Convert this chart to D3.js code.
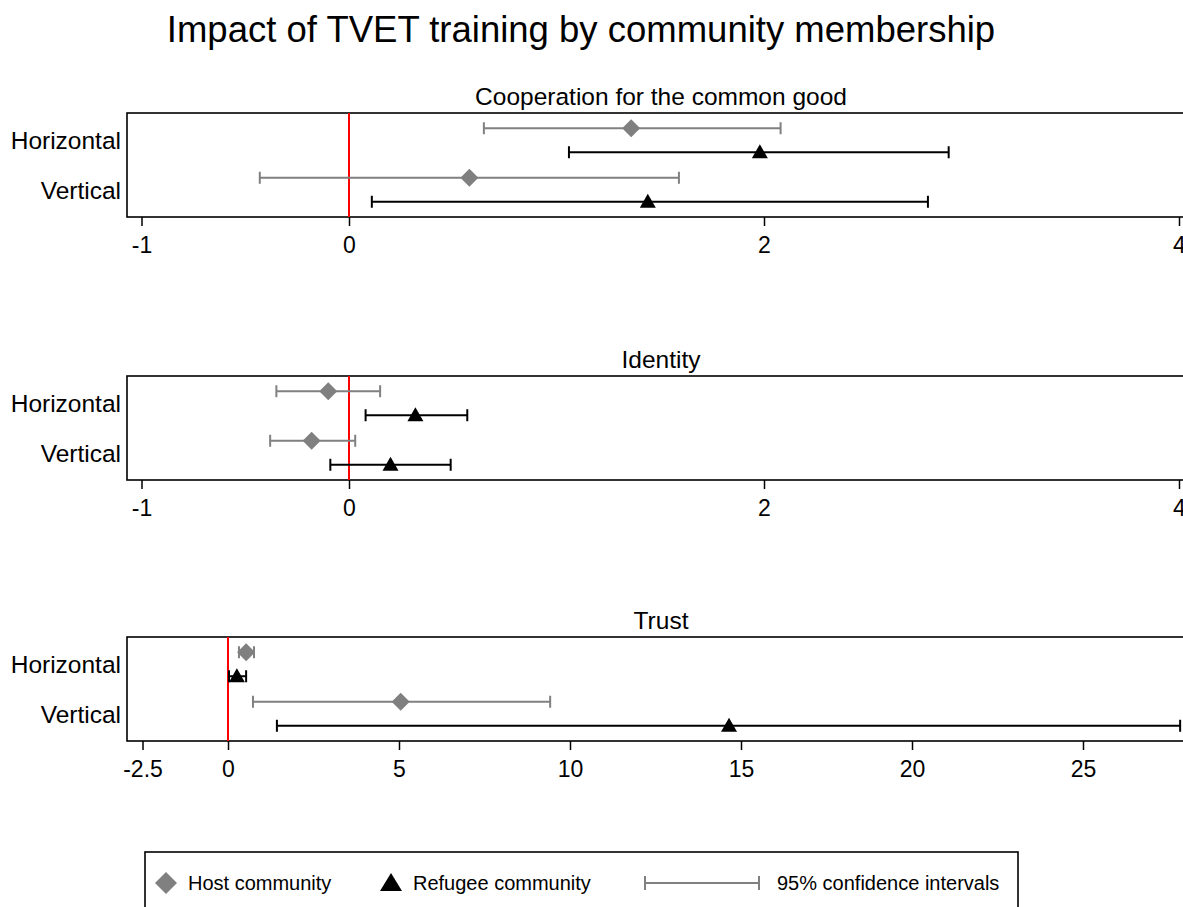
<!DOCTYPE html>
<html><head><meta charset="utf-8">
<script src="https://cdn.jsdelivr.net/npm/d3@7"></script>
<style>
html,body{margin:0;padding:0;background:#fff;overflow:hidden;}
text{font-family:"Liberation Sans",Arial,sans-serif;fill:#000;}
</style></head>
<body>
<script>
// ---- data ----
const chartTitle = "Impact of TVET training by community membership";
const panelTitles = ["Cooperation for the common good", "Identity", "Trust"];
const categories = ["Horizontal", "Vertical"];
const seriesNames = ["Host community", "Refugee community"];

// point estimates [Horizontal, Vertical]
const coopHost = [1.36, 0.58];
const coopRefugee = [1.98, 1.44];
const identityHost = [-0.10, -0.18];
const identityRefugee = [0.32, 0.20];
const trustHost = [0.53, 5.05];
const trustRefugee = [0.26, 14.65];

// 95% CI lower / upper
const coopHostLo = [0.65, -0.43], coopHostHi = [2.08, 1.59];
const coopRefLo = [1.06, 0.11], coopRefHi = [2.89, 2.79];
const idHostLo = [-0.35, -0.38], idHostHi = [0.15, 0.03];
const idRefLo = [0.08, -0.09], idRefHi = [0.57, 0.49];
const trHostLo = [0.32, 0.73], trHostHi = [0.76, 9.42];
const trRefLo = [0.03, 1.43], trRefHi = [0.53, 27.84];

const ticksA = [-1, 0, 2, 4];
const ticksB = [-2.5, 0, 5, 10, 15, 20, 25];
const legendCI = "95% confidence intervals";

// ---- layout ----
const W = 1183, H = 907;
const svg = d3.select("body").append("svg").attr("width", W).attr("height", H);

svg.append("text").attr("x", 581).attr("y", 42).attr("text-anchor", "middle")
  .style("font-size", "36.5px").text(chartTitle);

const boxLeft = 127, boxRight = 1200;
const panels = [
  {title: panelTitles[0], top: 113, host: coopHost, ref: coopRefugee, hLo: coopHostLo, hHi: coopHostHi, rLo: coopRefLo, rHi: coopRefHi,
   domain: [-1, 4], range: [141.5, 1179], ticks: ticksA},
  {title: panelTitles[1], top: 376, host: identityHost, ref: identityRefugee, hLo: idHostLo, hHi: idHostHi, rLo: idRefLo, rHi: idRefHi,
   domain: [-1, 4], range: [141.5, 1179], ticks: ticksA},
  {title: panelTitles[2], top: 637, host: trustHost, ref: trustRefugee, hLo: trHostLo, hHi: trHostHi, rLo: trRefLo, rHi: trRefHi,
   domain: [0, 25], range: [228, 1083], ticks: ticksB}
];
const boxH = 104;
const gray = "#808080";

panels.forEach(p => {
  const g = svg.append("g");
  const x = d3.scaleLinear().domain(p.domain).range(p.range);
  const y = d3.scalePoint().domain(categories).range([p.top, p.top + boxH]).padding(0.55);
  const off = 12;

  g.append("text").attr("x", 661).attr("y", p.top - 8).attr("text-anchor", "middle")
    .style("font-size", "24.5px").text(p.title);

  // box
  g.append("rect").attr("x", boxLeft).attr("y", p.top).attr("width", boxRight - boxLeft).attr("height", boxH)
    .attr("fill", "none").attr("stroke", "#000").attr("stroke-width", 1.6);

  // axis
  const ax = g.append("g").attr("transform", `translate(0,${p.top + boxH})`)
    .call(d3.axisBottom(x).tickValues(p.ticks).tickSize(9).tickSizeOuter(0).tickFormat(d => String(d)));
  ax.select(".domain").remove();
  ax.selectAll(".tick line").attr("stroke", "#000").attr("stroke-width", 1.5);
  ax.selectAll(".tick text").attr("y", 20).attr("dy", "0.71em").style("font-size", "23px")
    .style("font-family", "'Liberation Sans',Arial,sans-serif").attr("fill", "#000");

  // category labels
  g.selectAll(".cat").data(categories).join("text")
    .attr("x", 121).attr("y", d => y(d)).attr("dy", "0.36em").attr("text-anchor", "end")
    .style("font-size", "24.5px").text(d => d);

  // zero line
  g.append("line").attr("x1", x(0)).attr("x2", x(0)).attr("y1", p.top).attr("y2", p.top + boxH)
    .attr("stroke", "#ff0000").attr("stroke-width", 2);

  const rows = [];
  categories.forEach((c, i) => {
    rows.push({y: y(c) - off, v: p.host[i], lo: p.hLo[i], hi: p.hHi[i], col: gray, sym: "diamond"});
    rows.push({y: y(c) + off, v: p.ref[i], lo: p.rLo[i], hi: p.rHi[i], col: "#000", sym: "triangle"});
  });

  rows.forEach(r => {
    const cg = g.append("g");
    cg.append("line").attr("x1", x(r.lo)).attr("x2", x(r.hi)).attr("y1", r.y).attr("y2", r.y)
      .attr("stroke", r.col).attr("stroke-width", 2);
    [r.lo, r.hi].forEach(v => cg.append("line").attr("x1", x(v)).attr("x2", x(v))
      .attr("y1", r.y - 6).attr("y2", r.y + 6).attr("stroke", r.col).attr("stroke-width", 2));
    if (r.sym === "diamond") {
      cg.append("path").attr("transform", `translate(${x(r.v)},${r.y})`)
        .attr("d", "M0,-9L9,0L0,9L-9,0Z").attr("fill", gray);
    } else {
      cg.append("path").attr("transform", `translate(${x(r.v)},${r.y})`)
        .attr("d", "M0,-8L8,6L-8,6Z").attr("fill", "#000");
    }
  });
});

// legend
const lg = svg.append("g");
lg.append("rect").attr("x", 145).attr("y", 852).attr("width", 873).attr("height", 80)
  .attr("fill", "none").attr("stroke", "#000").attr("stroke-width", 1.6);
const ly = 883;
lg.append("path").attr("transform", `translate(166,${ly})`).attr("d", "M0,-11L11,0L0,11L-11,0Z").attr("fill", gray);
lg.append("text").attr("x", 188).attr("y", ly).attr("dy", "0.35em").style("font-size", "20px").text(seriesNames[0]);
lg.append("path").attr("transform", `translate(391,${ly})`).attr("d", "M0,-10L11,8L-11,8Z").attr("fill", "#000");
lg.append("text").attr("x", 413).attr("y", ly).attr("dy", "0.35em").style("font-size", "20px").text(seriesNames[1]);
lg.append("line").attr("x1", 645).attr("x2", 759).attr("y1", ly).attr("y2", ly).attr("stroke", gray).attr("stroke-width", 2);
[645, 759].forEach(v => lg.append("line").attr("x1", v).attr("x2", v).attr("y1", ly - 7).attr("y2", ly + 7)
  .attr("stroke", gray).attr("stroke-width", 2));
lg.append("text").attr("x", 777).attr("y", ly).attr("dy", "0.35em").style("font-size", "20px").text(legendCI);
</script>
</body></html>
